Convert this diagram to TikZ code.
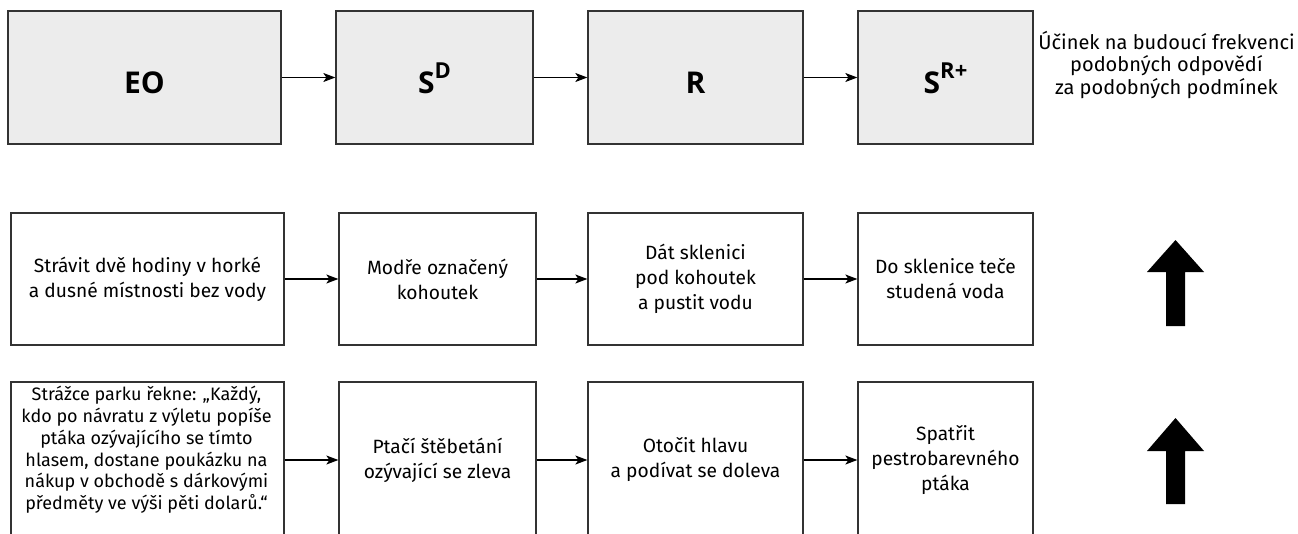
\documentclass[tikz,border=0pt]{standalone}
\usepackage{fontspec}
\setmainfont{Fira Sans}
\newfontfamily\labelfont{Open Sans}
\usetikzlibrary{arrows.meta}
\definecolor{boxline}{HTML}{333333}
\definecolor{topfill}{HTML}{ECECEC}
\newcommand\mysup[1]{\raisebox{0.5em}{\fontsize{22}{22}\selectfont #1}}
\begin{document}
\begin{tikzpicture}[x=1pt,y=-1pt,
  box/.style={draw=boxline, line width=1.3pt, rectangle, inner sep=0pt},
  topbox/.style={box, fill=topfill, minimum height=133pt},
  midbox/.style={box, fill=white, minimum height=132pt},
  botbox/.style={box, fill=white, minimum height=156pt},
  toplabel/.style={anchor=base, font=\labelfont\bfseries\fontsize{30}{30}\selectfont},
  txt/.style={align=center, inner sep=0pt, font=\fontsize{19.2}{25}\selectfont},
  conn/.style={draw=black, line width=1.1pt, -{Stealth[length=12pt,width=9pt,inset=3pt]}},
  blockarrow/.style={fill=black}
]
\useasboundingbox (0,0) rectangle (1298,533);

% top row
\node[topbox, minimum width=273pt] (eo) at (144.5,77.5) {};
\node[topbox, minimum width=197pt] (sd) at (434.5,77.5) {};
\node[topbox, minimum width=215pt] (r)  at (695.5,77.5) {};
\node[topbox, minimum width=175pt] (sr) at (945.5,77.5) {};
\node[toplabel] (eot) at (144.5,93.5) {EO};
\node[toplabel] (sdt) at (434.5,93.5) {S\mysup{D}};
\node[toplabel] (rt)  at (695.5,93.5) {R};
\node[toplabel] (srt) at (945.5,93.5) {S\mysup{R+}};
\draw[conn] (eo.east) -- (sd.west);
\draw[conn] (sd.east) -- (r.west);
\draw[conn] (r.east) -- (sr.west);
\node[txt, font=\fontsize{20}{22.5}\selectfont] (eff) at (1166.5,65) {Účinek na budoucí frekvenci\\podobných odpovědí\\za podobných podmínek};

% middle row
\node[midbox, minimum width=273pt] (m1) at (147.5,279) {};
\node[midbox, minimum width=197pt] (m2) at (437.5,279) {};
\node[midbox, minimum width=215pt] (m3) at (695.5,279) {};
\node[midbox, minimum width=175pt] (m4) at (945.5,279) {};
\node[txt] (m1t) at (m1.center) {Strávit dvě hodiny v horké\\a dusné místnosti bez vody};
\node[txt] (m2t) at (m2.center) {Modře označený\\kohoutek};
\node[txt] (m3t) at (m3.center) {Dát sklenici\\pod kohoutek\\a pustit vodu};
\node[txt] (m4t) at (m4.center) {Do sklenice teče\\studená voda};
\draw[conn] (m1.east) -- (m2.west);
\draw[conn] (m2.east) -- (m3.west);
\draw[conn] (m3.east) -- (m4.west);
\fill[blockarrow] (1175.5,240) -- (1204,272) -- (1185,272) -- (1185,326) -- (1166,326) -- (1166,272) -- (1147,272) -- cycle;

% bottom row
\node[botbox, minimum width=273pt] (b1) at (147.5,460) {};
\node[botbox, minimum width=197pt] (b2) at (437.5,460) {};
\node[botbox, minimum width=215pt] (b3) at (695.5,460) {};
\node[botbox, minimum width=175pt] (b4) at (945.5,460) {};
\node[txt, font=\fontsize{18}{21.8}\selectfont] (b1t) at (146.5,450) {Strážce parku řekne: „Každý,\\kdo po návratu z výletu popíše\\ptáka ozývajícího se tímto\\hlasem, dostane poukázku na\\nákup v obchodě s dárkovými\\předměty ve výši pěti dolarů.“};
\node[txt] (b2t) at (b2.center) {Ptačí štěbetání\\ozývající se zleva};
\node[txt] (b3t) at (b3.center) {Otočit hlavu\\a podívat se doleva};
\node[txt] (b4t) at (b4.center) {Spatřit\\pestrobarevného\\ptáka};
\draw[conn] (b1.east) -- (b2.west);
\draw[conn] (b2.east) -- (b3.west);
\draw[conn] (b3.east) -- (b4.west);
\fill[blockarrow] (1175.5,418) -- (1204,451) -- (1185,451) -- (1185,504) -- (1166,504) -- (1166,451) -- (1147,451) -- cycle;
\end{tikzpicture}
\end{document}
